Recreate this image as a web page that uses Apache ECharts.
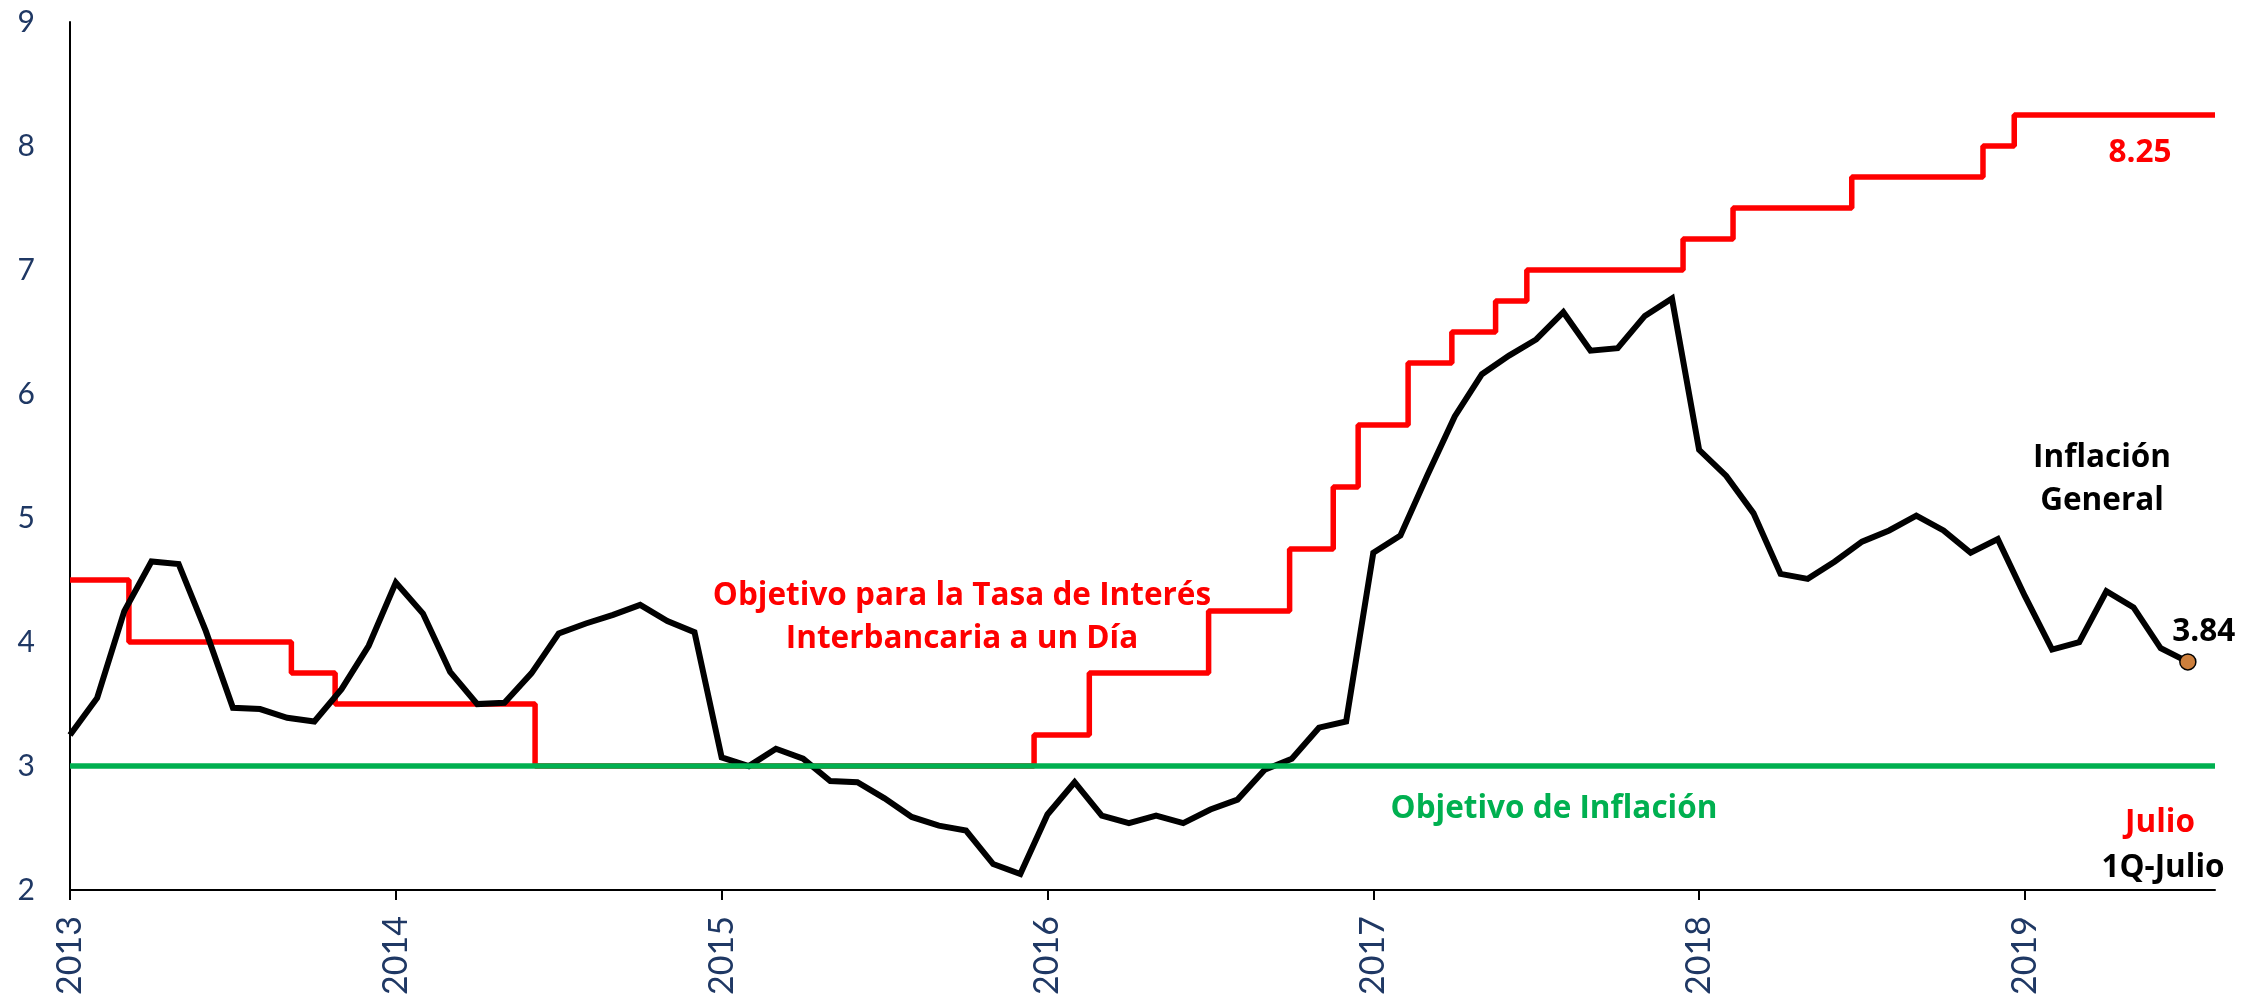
<!DOCTYPE html>
<html>
<head>
<meta charset="utf-8">
<script src="https://cdn.jsdelivr.net/npm/echarts@6/dist/echarts.min.js"></script>
<style>
  html, body { margin: 0; padding: 0; background: #fff; }
  #chart { width: 2264px; height: 998px; }
</style>
</head>
<body>
<div id="chart"></div>
<script>
// Inflación general anual, datos mensuales desde enero 2013 (último: 1Q-julio 2019)
const startYear = 2013
const inflation = [
  3.25, 3.55, 4.25, 4.65, 4.63, 4.09, 3.47, 3.46, 3.39, 3.36, 3.62, 3.97, // 2013
  4.48, 4.23, 3.76, 3.50, 3.51, 3.75, 4.07, 4.15, 4.22, 4.30, 4.17, 4.08, // 2014
  3.07, 3.00, 3.14, 3.06, 2.88, 2.87, 2.74, 2.59, 2.52, 2.48, 2.21, 2.13, // 2015
  2.61, 2.87, 2.60, 2.54, 2.60, 2.54, 2.65, 2.73, 2.97, 3.06, 3.31, 3.36, // 2016
  4.72, 4.86, 5.35, 5.82, 6.16, 6.31, 6.44, 6.66, 6.35, 6.37, 6.63, 6.77, // 2017
  5.55, 5.34, 5.04, 4.55, 4.51, 4.65, 4.81, 4.90, 5.02, 4.90, 4.72, 4.83, // 2018
  4.37, 3.94, 4.00, 4.41, 4.28, 3.95, 3.84                                // 2019
]

// Objetivo para la tasa de interés interbancaria a un día (fecha de cambio, nivel)
const rateDates = [
  '2013-01-01', '2013-03-08', '2013-09-06', '2013-10-25', '2014-06-06',
  '2015-12-17', '2016-02-17', '2016-06-30', '2016-09-29', '2016-11-17',
  '2016-12-15', '2017-02-09', '2017-03-30', '2017-05-18', '2017-06-22',
  '2017-12-14', '2018-02-08', '2018-06-21', '2018-11-15', '2018-12-20'
]
const rateValues = [
  4.5, 4.0, 3.75, 3.5, 3.0,
  3.25, 3.75, 4.25, 4.75, 5.25,
  5.75, 6.25, 6.5, 6.75, 7.0,
  7.25, 7.5, 7.75, 8.0, 8.25
]

const inflationTarget = 3
const xMin = 2013
const xMax = 2019 + 7 / 12 // hasta inicio de agosto 2019
const yMin = 2
const yMax = 9

const labelColor = '#1F3864'
const axisFont = 'Lato'
const noteFont = 'Open Sans'

function toYear(s) {
  const d = new Date(s + 'T00:00:00Z')
  const y = d.getUTCFullYear()
  const a = Date.UTC(y, 0, 1)
  const b = Date.UTC(y + 1, 0, 1)
  return y + (d.getTime() - a) / (b - a)
}

const inflationData = inflation.map((v, i) => [startYear + i / 12, v])
const rateData = rateDates.map((d, i) => [toYear(d), rateValues[i]])
rateData.push([xMax, rateValues[rateValues.length - 1]])
const lastPoint = inflationData[inflationData.length - 1]

function note(text, x, y, color) {
  return {
    type: 'text',
    x: x,
    y: y,
    style: {
      text: text,
      fill: color,
      fontFamily: noteFont,
      fontWeight: 'bold',
      fontSize: 31.5,
      lineHeight: 43,
      align: 'center',
      verticalAlign: 'middle'
    }
  }
}

const chart = echarts.init(document.getElementById('chart'))
chart.setOption({
  backgroundColor: '#fff',
  animation: false,
  grid: { left: 70, right: 49, top: 22, bottom: 100 },
  xAxis: {
    type: 'value',
    min: xMin,
    max: xMax,
    interval: 1,
    axisLine: { lineStyle: { color: '#000', width: 2 } },
    axisTick: { show: true, length: 10, lineStyle: { color: '#000', width: 2 } },
    splitLine: { show: false },
    axisLabel: {
      rotate: 90,
      margin: 26,
      color: labelColor,
      fontFamily: axisFont,
      fontSize: 34,
      showMaxLabel: false,
      formatter: v => String(Math.round(v))
    }
  },
  yAxis: {
    type: 'value',
    min: yMin,
    max: yMax,
    interval: 1,
    axisLine: { show: true, lineStyle: { color: '#000', width: 2 } },
    axisTick: { show: false },
    splitLine: { show: false },
    axisLabel: {
      margin: 35,
      color: labelColor,
      fontFamily: axisFont,
      fontSize: 30
    }
  },
  series: [
    {
      name: 'Tasa objetivo',
      type: 'line',
      step: 'end',
      data: rateData,
      showSymbol: false,
      lineStyle: { color: '#FF0000', width: 5.5 },
      z: 2
    },
    {
      name: 'Inflación General',
      type: 'line',
      data: inflationData,
      showSymbol: false,
      lineStyle: { color: '#000', width: 6, join: 'miter' },
      z: 3
    },
    {
      name: 'Objetivo de Inflación',
      type: 'line',
      data: [[xMin, inflationTarget], [xMax, inflationTarget]],
      showSymbol: false,
      lineStyle: { color: '#00B050', width: 5.5 },
      z: 4
    },
    {
      name: 'Último dato',
      type: 'scatter',
      data: [lastPoint],
      symbolSize: 16,
      itemStyle: { color: '#CD7F3C', borderColor: '#000', borderWidth: 1.5, opacity: 1 },
      emphasis: { disabled: true },
      label: {
        show: true,
        position: 'top',
        offset: [16, 0],
        formatter: p => p.value[1].toFixed(2),
        color: '#000',
        opacity: 1,
        textBorderWidth: 0,
        fontFamily: noteFont,
        fontWeight: 'bold',
        fontSize: 31.5
      },
      z: 5
    }
  ],
  graphic: [
    note('Objetivo para la Tasa de Interés\nInterbancaria a un Día', 962, 618, '#FF0000'),
    note('Objetivo de Inflación', 1554, 809, '#00B050'),
    note('Inflación\nGeneral', 2102, 480, '#000'),
    note('8.25', 2140, 153, '#FF0000'),
    note('Julio', 2160, 823, '#FF0000'),
    note('1Q-Julio', 2163, 868, '#000')
  ]
})
</script>
</body>
</html>
